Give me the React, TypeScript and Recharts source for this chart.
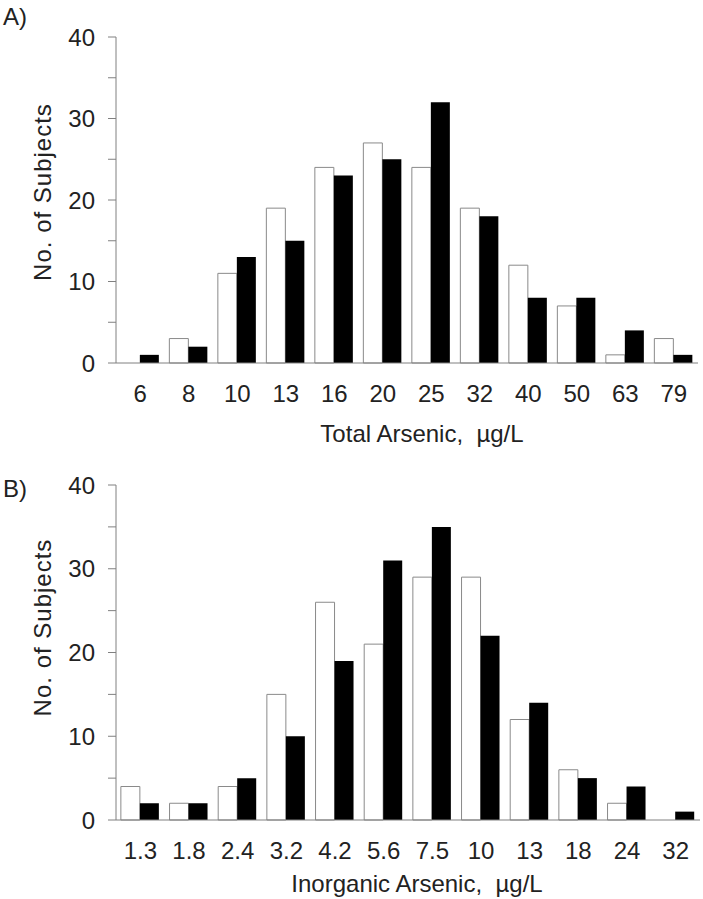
import React from "react";
import { BarChart, Bar, XAxis, YAxis, Label } from "recharts";

const totalCategories = ["6", "8", "10", "13", "16", "20", "25", "32", "40", "50", "63", "79"];
const totalWhite = [0, 3, 11, 19, 24, 27, 24, 19, 12, 7, 1, 3];
const totalBlack = [1, 2, 13, 15, 23, 25, 32, 18, 8, 8, 4, 1];

const inorgCategories = ["1.3", "1.8", "2.4", "3.2", "4.2", "5.6", "7.5", "10", "13", "18", "24", "32"];
const inorgWhite = [4, 2, 4, 15, 26, 21, 29, 29, 12, 6, 2, 0];
const inorgBlack = [2, 2, 5, 10, 19, 31, 35, 22, 14, 5, 4, 1];

const yTicks = [0, 5, 10, 15, 20, 25, 30, 35, 40];

const FONT = "'Liberation Sans', Arial, sans-serif";
const TEXT = "#222";
const AXIS = "#808080";
const FS = 24;

const buildData = (cats: string[], w: number[], b: number[]) =>
  cats.map((c, i) => ({ cat: c, white: w[i], black: b[i] }));

const YTick = (props: any) => {
  const { x, y, payload } = props;
  if (payload.value % 10 !== 0) return null;
  return (
    <text x={x} y={y} dy="0.355em" textAnchor="end" fontSize={FS} fill={TEXT} fontFamily={FONT}>
      {payload.value}
    </text>
  );
};

const XTick = (props: any) => {
  const { x, y, payload } = props;
  return (
    <text x={x} y={y} dy="0.355em" textAnchor="middle" fontSize={FS} fill={TEXT} fontFamily={FONT}>
      {payload.value}
    </text>
  );
};

type PanelProps = {
  cats: string[];
  w: number[];
  b: number[];
  height: number;
  margin: { top: number; right: number; bottom: number; left: number };
  xTitle: string;
  panel: string;
  xAxisHeight: number;
  titleDy: number;
  titleDx: number;
  panelY: number;
  yLabelShift: number;
};

const Panel = ({ cats, w, b, height, margin, xTitle, panel, xAxisHeight, titleDy, titleDx, panelY, yLabelShift }: PanelProps) => {
  const data = buildData(cats, w, b);
  return (
    <BarChart width={703} height={height} data={data} margin={margin} barCategoryGap="10%" barGap={0}>
      <XAxis
        dataKey="cat"
        height={xAxisHeight}
        axisLine={{ stroke: AXIS }}
        tickLine={false}
        tickSize={0}
        tickMargin={30}
        tick={<XTick />}
        interval={0}
      >
        <Label
          content={(p: any) => {
            const vb = p.viewBox;
            return (
              <text
                x={vb.x + vb.width / 2 + titleDx}
                y={vb.y + titleDy}
                dy="0.355em"
                textAnchor="middle"
                fontSize={FS}
                fill={TEXT}
                fontFamily={FONT}
                style={{ whiteSpace: "pre" }}
              >
                {xTitle}
              </text>
            );
          }}
        />
      </XAxis>
      <YAxis
        width={116}
        domain={[0, 40]}
        ticks={yTicks}
        interval={0}
        axisLine={{ stroke: AXIS }}
        tickLine={{ stroke: AXIS }}
        tickSize={8}
        tickMargin={13}
        tick={<YTick />}
      >
        <Label
          content={(p: any) => {
            const vb = p.viewBox;
            const cy = vb.y + vb.height / 2 + yLabelShift;
            return (
              <g>
                <text
                  x={42}
                  y={cy}
                  dy="0.355em"
                  textAnchor="middle"
                  fontSize={FS}
                  fill={TEXT}
                  fontFamily={FONT}
                  letterSpacing={1}
                  transform={`rotate(-90, 42, ${cy})`}
                >
                  No. of Subjects
                </text>
                <text x={3} y={panelY} dy="0.355em" textAnchor="start" fontSize={FS} fill={TEXT} fontFamily={FONT}>
                  {panel}
                </text>
              </g>
            );
          }}
        />
      </YAxis>
      <Bar dataKey="white" fill="#ffffff" stroke="#8a8a8a" strokeWidth={1} isAnimationActive={false} />
      <Bar dataKey="black" fill="#000000" isAnimationActive={false} />
    </BarChart>
  );
};

export default function App() {
  return (
    <div style={{ position: "absolute", left: 0, top: 0, width: 703, height: 899, background: "#fff" }}>
      <div style={{ position: "absolute", left: 0, top: 0 }}>
        <Panel
          cats={totalCategories}
          w={totalWhite}
          b={totalBlack}
          height={450}
          margin={{ top: 37, right: 5, bottom: 7, left: 0 }}
          xTitle={"Total Arsenic,  µg/L"}
          panel="A)"
          xAxisHeight={80}
          titleDy={70}
          titleDx={15}
          panelY={16}
          yLabelShift={-8}
        />
      </div>
      <div style={{ position: "absolute", left: 0, top: 450 }}>
        <Panel
          cats={inorgCategories}
          w={inorgWhite}
          b={inorgBlack}
          height={449}
          margin={{ top: 35, right: 3, bottom: 4, left: 0 }}
          xTitle={"Inorganic Arsenic,  µg/L"}
          panel="B)"
          xAxisHeight={75}
          titleDy={63}
          titleDx={9}
          panelY={38}
          yLabelShift={-25}
        />
      </div>
    </div>
  );
}
